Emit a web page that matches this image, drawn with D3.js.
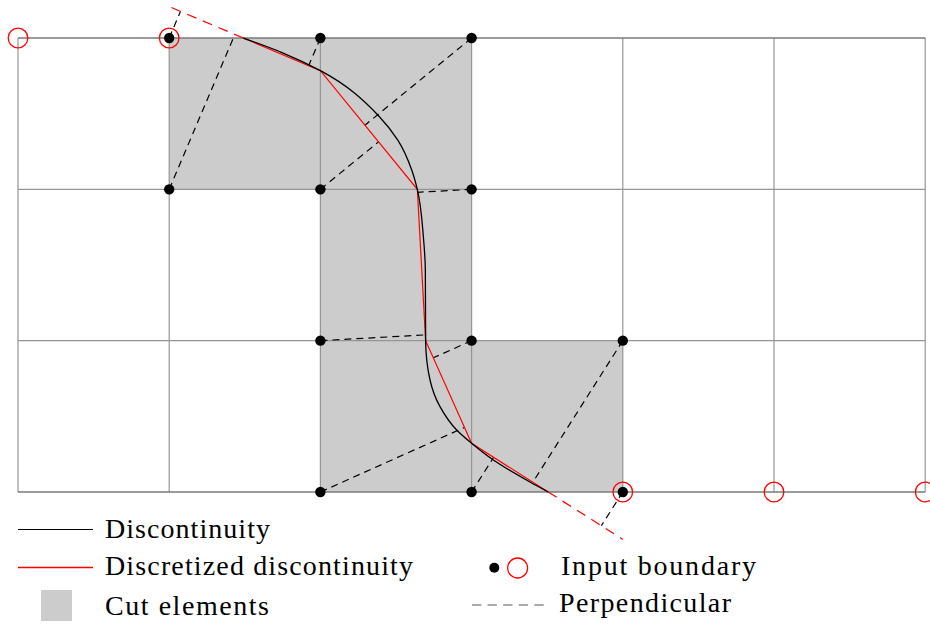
<!DOCTYPE html>
<html>
<head>
<meta charset="utf-8">
<script src="https://cdn.jsdelivr.net/npm/d3@7"></script>
<style>
  html, body { margin: 0; padding: 0; background: #fff; }
  svg { display: block; }
  text { font-family: "Liberation Serif", "DejaVu Serif", serif; fill: #000; }
</style>
</head>
<body>
<svg id="chart" width="930" height="624"></svg>
<script>
// Mesh size (elements along x and y)
const nCols = 6;
const nRows = 3;

// Cut elements, given by their lower-left node (column, row)
const cutCols = [1, 2, 2, 2, 3];
const cutRows = [2, 2, 1, 0, 0];

// Discontinuity curve, sampled in element units
const curveU = [1.490, 1.746, 2.0, 2.386, 2.513, 2.604, 2.641, 2.681, 2.694, 2.696, 2.725, 2.791, 2.901, 3.0, 3.144, 3.386, 3.507];
const curveV = [3.000, 2.904, 2.784, 2.485, 2.323, 2.128, 2.0, 1.687, 1.467, 1.0, 0.740, 0.564, 0.410, 0.322, 0.211, 0.066, 0.0];

// Discretized discontinuity: intersections of the curve with element edges
const discU = [1.490, 2.0, 2.641, 2.696, 3.0, 3.507];
const discV = [3.0, 2.784, 2.0, 1.0, 0.322, 0.0];

// The first and last segments are extended up to these columns
const extStartU = 1;
const extEndU = 4;

// Nodes of the cut elements
const nodeU = [1, 2, 3, 1, 2, 3, 2, 3, 4, 2, 3, 4];
const nodeV = [3, 3, 3, 2, 2, 2, 1, 1, 1, 0, 0, 0];

// Input boundary nodes
const boundU = [0, 1, 4, 5, 6];
const boundV = [3, 3, 0, 0, 0];

// Legend labels
const legendLabels = ["Discontinuity", "Discretized discontinuity", "Cut elements", "Input boundary", "Perpendicular"];

const RED = "#ff0000";

const svg = d3.select("#chart");
const x = d3.scaleLinear().domain([0, nCols]).range([18, 925.2]);
const y = d3.scaleLinear().domain([0, nRows]).range([492, 38]);

// Cut elements (shaded)
svg.append("g").selectAll("rect")
  .data(d3.range(cutCols.length))
  .join("rect")
  .attr("x", i => x(cutCols[i]))
  .attr("y", i => y(cutRows[i] + 1))
  .attr("width", i => x(cutCols[i] + 1) - x(cutCols[i]))
  .attr("height", i => y(cutRows[i]) - y(cutRows[i] + 1))
  .attr("fill", "#cccccc");

// Mesh lines
const grid = svg.append("g").attr("fill", "none");
grid.selectAll("line.v")
  .data(d3.range(nCols + 1))
  .join("line")
  .attr("class", "v")
  .attr("x1", d => x(d)).attr("x2", d => x(d))
  .attr("y1", y(nRows)).attr("y2", y(0))
  .attr("stroke", "#959595").attr("stroke-width", 1.2);
grid.selectAll("line.h")
  .data(d3.range(nRows + 1))
  .join("line")
  .attr("class", "h")
  .attr("x1", x(0)).attr("x2", x(nCols))
  .attr("y1", d => y(d)).attr("y2", d => y(d))
  .attr("stroke", d => (d === 0 || d === nRows) ? "#7a7a7a" : "#959595")
  .attr("stroke-width", d => (d === 0 || d === nRows) ? 1.6 : 1.2);

// Discretized polyline in element units
const disc = discU.map((u, i) => [u, discV[i]]);
const nSeg = disc.length - 1;

// Point on the line through a and b at abscissa u
function atU(a, b, u) {
  const t = (u - a[0]) / (b[0] - a[0]);
  return [u, a[1] + t * (b[1] - a[1])];
}
const extStart = atU(disc[0], disc[1], extStartU);
const extEnd = atU(disc[nSeg - 1], disc[nSeg], extEndU);

// Foot of the perpendicular from a node onto the discretized discontinuity.
// Distances are measured on screen; end segments count as half-infinite lines.
function foot(p) {
  const P = [x(p[0]), y(p[1])];
  let best = null;
  for (let s = 0; s < nSeg; s++) {
    const A = [x(disc[s][0]), y(disc[s][1])];
    const B = [x(disc[s + 1][0]), y(disc[s + 1][1])];
    const dx = B[0] - A[0], dy = B[1] - A[1];
    const t = ((P[0] - A[0]) * dx + (P[1] - A[1]) * dy) / (dx * dx + dy * dy);
    const lo = s === 0 ? -Infinity : 0;
    const hi = s === nSeg - 1 ? Infinity : 1;
    if (t < lo || t > hi) continue;
    const F = [A[0] + t * dx, A[1] + t * dy];
    const dist = Math.hypot(F[0] - P[0], F[1] - P[1]);
    if (!best || dist < best.dist) best = { F, dist };
  }
  return best.F;
}

// Perpendiculars
const nodes = nodeU.map((u, i) => [u, nodeV[i]]);
svg.append("g").selectAll("line")
  .data(nodes)
  .join("line")
  .attr("x1", d => x(d[0])).attr("y1", d => y(d[1]))
  .attr("x2", d => foot(d)[0]).attr("y2", d => foot(d)[1])
  .attr("stroke", "#000").attr("stroke-width", 1.2)
  .attr("stroke-dasharray", "7,5");

const line = d3.line().x(d => x(d[0])).y(d => y(d[1]));

// Extensions of the discretized discontinuity
svg.append("g").selectAll("path")
  .data([[disc[0], extStart], [disc[nSeg], extEnd]])
  .join("path")
  .attr("d", line)
  .attr("fill", "none")
  .attr("stroke", RED).attr("stroke-width", 1.2)
  .attr("stroke-dasharray", "10,7");

// Discretized discontinuity
svg.append("path")
  .datum(disc)
  .attr("d", line)
  .attr("fill", "none")
  .attr("stroke", RED).attr("stroke-width", 1.2);

// Discontinuity (monotone in the vertical direction)
const curvePts = curveU.map((u, i) => [u, curveV[i]]);
svg.append("path")
  .datum(curvePts)
  .attr("d", d3.line().x(d => x(d[0])).y(d => y(d[1])).curve(d3.curveMonotoneY))
  .attr("fill", "none")
  .attr("stroke", "#000").attr("stroke-width", 1.3);

// Nodes
svg.append("g").selectAll("circle")
  .data(nodes)
  .join("circle")
  .attr("cx", d => x(d[0])).attr("cy", d => y(d[1]))
  .attr("r", 5.2)
  .attr("fill", "#000");

// Input boundary
svg.append("g").selectAll("circle")
  .data(boundU.map((u, i) => [u, boundV[i]]))
  .join("circle")
  .attr("cx", d => x(d[0])).attr("cy", d => y(d[1]))
  .attr("r", 9.8)
  .attr("fill", "none")
  .attr("stroke", RED).attr("stroke-width", 1.3);

// Legend
const lg = svg.append("g");
lg.append("line").attr("x1", 18).attr("x2", 93).attr("y1", 529.5).attr("y2", 529.5)
  .attr("stroke", "#000").attr("stroke-width", 1.2);
lg.append("line").attr("x1", 18).attr("x2", 93).attr("y1", 567.5).attr("y2", 567.5)
  .attr("stroke", RED).attr("stroke-width", 1.4);
lg.append("rect").attr("x", 41).attr("y", 590).attr("width", 31).attr("height", 31)
  .attr("fill", "#cccccc");
lg.append("circle").attr("cx", 494.3).attr("cy", 567.7).attr("r", 5).attr("fill", "#000");
lg.append("circle").attr("cx", 517.6).attr("cy", 568).attr("r", 10)
  .attr("fill", "none").attr("stroke", RED).attr("stroke-width", 1.3);
lg.append("line").attr("x1", 472).attr("x2", 544).attr("y1", 605).attr("y2", 605)
  .attr("stroke", "#555").attr("stroke-width", 1.2).attr("stroke-dasharray", "9.3,6.3");

const labelX = [105, 105, 105, 561, 559];
const labelY = [537.7, 575, 615, 575, 611.7];
const labelW = [165, 308, 164, 195, 172];
lg.selectAll("text")
  .data(legendLabels)
  .join("text")
  .attr("x", (d, i) => labelX[i])
  .attr("y", (d, i) => labelY[i])
  .attr("font-size", 28)
  .attr("textLength", (d, i) => labelW[i])
  .attr("lengthAdjust", "spacing")
  .text(d => d);
</script>
</body>
</html>
